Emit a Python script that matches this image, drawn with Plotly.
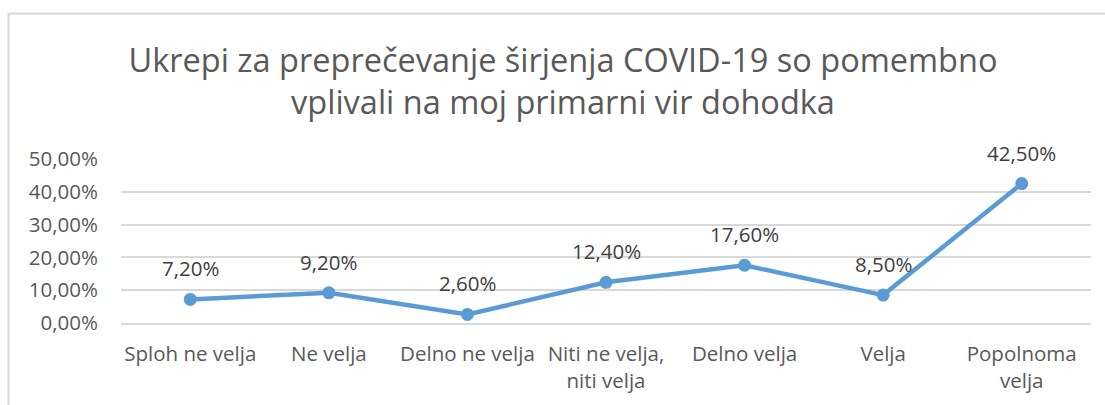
import plotly.graph_objects as go

categories = ["Sploh ne velja", "Ne velja", "Delno ne velja", "Niti ne velja,<br>niti velja",
              "Delno velja", "Velja", "Popolnoma<br>velja"]
values = [7.2, 9.2, 2.6, 12.4, 17.6, 8.5, 42.5]
y_ticks = [0, 10, 20, 30, 40, 50]
y_tick_labels = ["0,00%", "10,00%", "20,00%", "30,00%", "40,00%", "50,00%"]
title_text = "Ukrepi za preprečevanje širjenja COVID-19 so pomembno<br>vplivali na moj primarni vir dohodka"

W, H = 1105, 405
ML, MR, MT, MB = 121, 14, 159, 82
FONT = "Open Sans"
LINE_COLOR = "#5B9BD5"
GRID = "#D9D9D9"

fig = go.Figure()
fig.add_trace(go.Scatter(
    x=categories, y=values, mode="lines+markers",
    line=dict(color=LINE_COLOR, width=4.5),
    marker=dict(color=LINE_COLOR, size=13),
    hoverinfo="skip", showlegend=False,
))

def pct(v):
    return f"{v:.2f}".replace(".", ",") + "%"

for c, v in zip(categories, values):
    fig.add_annotation(x=c, y=v, text=pct(v), showarrow=False, yshift=31,
                       yanchor="middle", font=dict(family=FONT, size=20.5, color="#404040"))

# chart frame (light outline around the whole chart area)
pw, ph = W - ML - MR, H - MT - MB
def px_to_paper_x(px):
    return (px - ML) / pw
def px_to_paper_y(py):
    return (H - MB - py) / ph
fig.add_shape(type="line", xref="paper", yref="paper",
              x0=px_to_paper_x(8.5), x1=px_to_paper_x(8.5),
              y0=px_to_paper_y(13.5), y1=px_to_paper_y(420),
              line=dict(color=GRID, width=2))
fig.add_shape(type="line", xref="paper", yref="paper",
              x0=px_to_paper_x(8.5), x1=px_to_paper_x(1110),
              y0=px_to_paper_y(13.5), y1=px_to_paper_y(13.5),
              line=dict(color=GRID, width=2))

fig.update_layout(
    width=W, height=H,
    margin=dict(l=ML, r=MR, t=MT, b=MB, pad=0),
    paper_bgcolor="white", plot_bgcolor="white",
    title=dict(text=title_text, x=563 / W, xanchor="center", y=1 - 72 / H, yanchor="middle",
               font=dict(family=FONT, size=32.5, color="#595959")),
    xaxis=dict(range=[-0.5, len(categories) - 0.5], showgrid=False, showline=True,
               linecolor=GRID, linewidth=1.5,
               ticks="", ticklabelstandoff=12, zeroline=False, fixedrange=True,
               tickfont=dict(family=FONT, size=20.5, color="#595959")),
    yaxis=dict(range=[0, 50], tickvals=y_ticks, ticktext=y_tick_labels,
               showgrid=True, gridcolor=GRID, gridwidth=1.5, showline=False, zeroline=False,
               ticks="", ticklabelstandoff=22, fixedrange=True,
               tickfont=dict(family=FONT, size=20.5, color="#595959")),
)

fig.write_html("out.html")
